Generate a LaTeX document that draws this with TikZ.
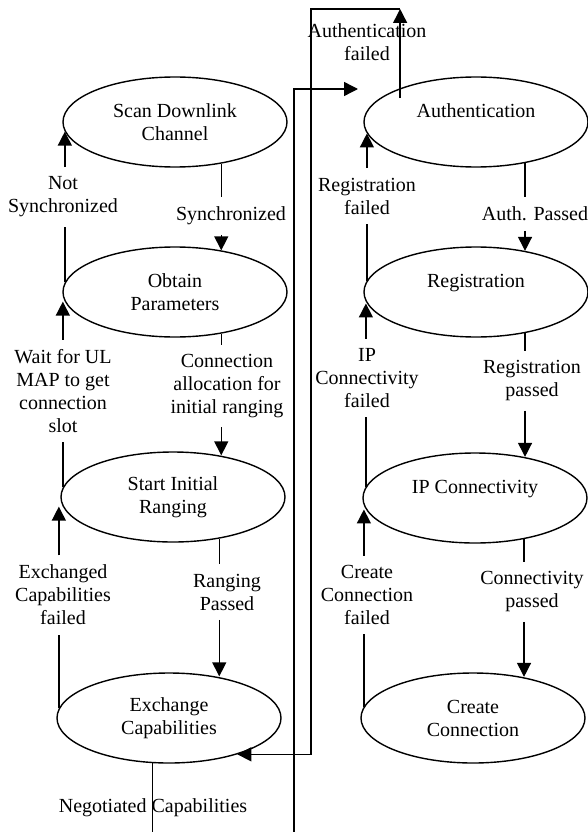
\documentclass[tikz,border=0pt]{standalone}
\usepackage{fontspec}
\setmainfont{Liberation Serif}
\usetikzlibrary{shapes.geometric,arrows.meta}

\begin{document}
\begin{tikzpicture}[x=1pt,y=-1pt,line width=1.4pt,
   every node/.style={font=\fontsize{20}{23}\selectfont,align=center},
   state/.style={ellipse,draw,minimum width=224pt,minimum height=90pt,inner sep=0pt},
   lbl/.style={inner xsep=1pt,inner ysep=9pt},
   arr/.style={-{Triangle[length=14pt,width=14pt]}}]
   \useasboundingbox (0,0) rectangle (588,832);
   \node[state] (scan) at (175,122) {Scan Downlink\\Channel};
   \node[state] (obtain) at (175,292) {Obtain\\Parameters};
   \node[state] (ranging) at (173,497) {Start Initial\\Ranging};
   \node[state] (exchange) at (169,718) {Exchange\\Capabilities};
   \node[state] (auth) at (476,122) {Authentication\\[-8pt]\strut};
   \node[state] (reg) at (476,292) {Registration\\[-8pt]\strut};
   \node[state] (ipc) at (475,498) {IP Connectivity\\[-8pt]\strut};
   \node[state] (create) at (473,718) {Create\\Connection};
   \node[lbl] (lsync) at (231,216) {Synchronized};
   \node[lbl] (lnotsync) at (63,197) {Not\\Synchronized};
   \node[lbl] (lalloc) at (227,386) {Connection\\allocation for\\initial ranging};
   \node[lbl] (lwait) at (63,391) {Wait for UL\\MAP to get\\connection\\slot};
   \node[lbl] (lrpass) at (227,592) {Ranging\\Passed};
   \node[lbl] (lexfail) at (63,595) {Exchanged\\Capabilities\\failed};
   \node[lbl] (lapass) at (535,214) {Auth. Passed};
   \node[lbl] (lregfail) at (367,196) {Registration\\failed};
   \node[lbl] (lregpass) at (532,381) {Registration\\passed};
   \node[lbl] (lipfail) at (367,378) {IP\\Connectivity\\failed};
   \node[lbl] (lcpass) at (532,592) {Connectivity\\passed};
   \node[lbl] (lccfail) at (367,595) {Create\\Connection\\failed};
   \node (lauthfail) at (367,42) {Authentication\\failed};
   \node (lnego) at (153,808) {Negotiated Capabilities};
   \coordinate (negend) at (exchange.-110 |- 0,832);
   \coordinate (retbot) at (294,832);
   \coordinate (retin) at (358,89);
   \coordinate (aftop) at (auth.156 |- 0,9);
   \coordinate (afleft) at (311,9);
   \draw (scan.-42) -- (scan.-42 |- lsync.north);
   \draw[arr] (scan.-42 |- lsync.south) -- (scan.-42 |- obtain.42);
   \draw (obtain.-42) -- (obtain.-42 |- lalloc.north);
   \draw[arr] (obtain.-42 |- lalloc.south) -- (obtain.-42 |- ranging.42);
   \draw (ranging.-42) -- (ranging.-42 |- lrpass.north);
   \draw[arr] (ranging.-42 |- lrpass.south) -- (ranging.-42 |- exchange.42);
   \draw (obtain.175) -- (obtain.175 |- lnotsync.south);
   \draw[arr] (obtain.175 |- lnotsync.north) -- (obtain.175 |- scan.185);
   \draw (ranging.175) -- (ranging.175 |- lwait.south);
   \draw[arr] (ranging.175 |- lwait.north) -- (ranging.175 |- obtain.185);
   \draw (exchange.175) -- (exchange.175 |- lexfail.south);
   \draw[arr] (exchange.175 |- lexfail.north) -- (exchange.175 |- ranging.185);
   \draw (auth.-40) -- (auth.-40 |- lapass.north);
   \draw[arr] (auth.-40 |- lapass.south) -- (auth.-40 |- reg.40);
   \draw (reg.-40) -- (reg.-40 |- lregpass.north);
   \draw[arr] (reg.-40 |- lregpass.south) -- (reg.-40 |- ipc.40);
   \draw (ipc.-40) -- (ipc.-40 |- lcpass.north);
   \draw[arr] (ipc.-40 |- lcpass.south) -- (ipc.-40 |- create.40);
   \draw (reg.174) -- (reg.174 |- lregfail.south);
   \draw[arr] (reg.174 |- lregfail.north) -- (reg.174 |- auth.186);
   \draw (ipc.174) -- (ipc.174 |- lipfail.south);
   \draw[arr] (ipc.174 |- lipfail.north) -- (ipc.174 |- reg.186);
   \draw (create.174) -- (create.174 |- lccfail.south);
   \draw[arr] (create.174 |- lccfail.north) -- (create.174 |- ipc.186);
   \draw[arr] ([yshift=-10pt]auth.156) -- (aftop);
   \draw[arr] (aftop) -- (afleft) |- (exchange.-28);
   \draw (exchange.-110) -- (negend);
   \draw[arr] (retbot) |- (retin);
\end{tikzpicture}
\end{document}
